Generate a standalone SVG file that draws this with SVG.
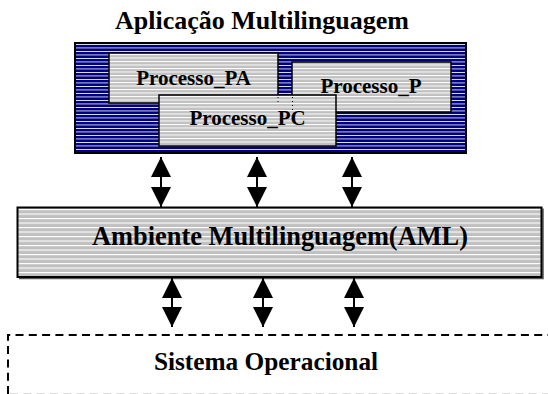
<svg xmlns="http://www.w3.org/2000/svg" width="548" height="394" viewBox="0 0 548 394">
<style>
.t{font-family:'Liberation Serif','Times New Roman',Times,serif;font-weight:700;fill:#000;text-anchor:middle}
.proc{fill:url(#grayS);stroke:#000;stroke-width:1.5}
.conn{stroke:#000;stroke-width:2;marker-start:url(#head);marker-end:url(#head)}
</style>
<defs>
<pattern id="blueS" patternUnits="userSpaceOnUse" x="0" y="44" width="10" height="3.5">
<rect width="10" height="3.5" fill="#000080"/>
<rect y="0" width="10" height="0.8" fill="#ffffff"/>
</pattern>
<pattern id="grayS" patternUnits="userSpaceOnUse" x="0" y="54" width="10" height="3.5">
<rect width="10" height="3.5" fill="#c0c0c0"/>
<rect y="0" width="10" height="1" fill="#ffffff"/>
</pattern>
<pattern id="grayL" patternUnits="userSpaceOnUse" x="0" y="209" width="10" height="4.5">
<rect width="10" height="4.5" fill="#c0c0c0"/>
<rect y="0" width="10" height="1.1" fill="#ffffff"/>
</pattern>
<marker id="head" viewBox="0 0 20 20" refX="20" refY="10" markerWidth="20" markerHeight="20" markerUnits="userSpaceOnUse" orient="auto-start-reverse">
<path d="M0,0 L20,10 L0,20 z" fill="#000"/>
</marker>
</defs>
<rect width="548" height="394" fill="#fff"/>

<g id="title">
<text class="t" x="262" y="29" font-size="26">Aplicação Multilinguagem</text>
</g>

<g id="app">
<rect x="75" y="43" width="391" height="110" fill="url(#blueS)" stroke="#000" stroke-width="2"/>
</g>
<g id="processo_pa">
<rect class="proc" x="109" y="53" width="169" height="50"/>
<text class="t" x="193.5" y="85" font-size="21">Processo_PA</text>
</g>
<g id="processo_p">
<rect class="proc" x="292" y="62" width="159" height="50"/>
<text class="t" x="371" y="93" font-size="21">Processo_P</text>
</g>
<g id="processo_pc">
<rect class="proc" x="159" y="95" width="177" height="51"/>
<text class="t" x="247.5" y="125" font-size="21">Processo_PC</text>
<path d="M278,97 V105 M292.5,97 V112" stroke="#000" stroke-width="1" stroke-dasharray="1,3"/>
</g>

<g id="aml">
<path d="M19,278.5 H543 V208.5" fill="none" stroke="#555" stroke-width="1.5"/>
<rect x="17.5" y="207.5" width="524" height="69.5" fill="url(#grayL)" stroke="#000" stroke-width="2"/>
<text class="t" x="280" y="245" font-size="26.4">Ambiente Multilinguagem(AML)</text>
</g>

<g id="so">
<path d="M8,394 V335 H560" fill="none" stroke="#000" stroke-width="2" stroke-dasharray="8,5.3"/>
<path d="M10,393.5 H560" fill="none" stroke="#dcdcdc" stroke-width="1" stroke-dasharray="8,5.3"/>
<text class="t" x="266" y="370" font-size="25.3">Sistema Operacional</text>
</g>

<g id="connectors">
<line class="conn" x1="161" y1="157" x2="161" y2="207"/>
<line class="conn" x1="257" y1="157" x2="257" y2="207"/>
<line class="conn" x1="352" y1="157" x2="352" y2="207"/>
<line class="conn" x1="172" y1="278" x2="172" y2="327"/>
<line class="conn" x1="263" y1="278" x2="263" y2="327"/>
<line class="conn" x1="354" y1="278" x2="354" y2="327"/>
</g>
</svg>
